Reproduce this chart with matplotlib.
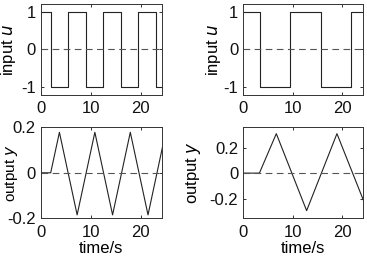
import matplotlib
matplotlib.use("Agg")
import matplotlib.pyplot as plt

# Left column data
u1_t = [0, 2.0, 2.0, 5.5, 5.5, 9.0, 9.0, 12.5, 12.5, 16.0, 16.0, 19.5, 19.5, 23.1, 23.1, 25]
u1_v = [1, 1, -1, -1, 1, 1, -1, -1, 1, 1, -1, -1, 1, 1, -1, -1]
y1_t = [0, 2.0, 3.75, 7.3, 10.85, 14.4, 17.95, 21.5, 25]
y1_v = [0, 0, 0.178, -0.185, 0.178, -0.185, 0.178, -0.185, 0.175]

# Right column data
u2_t = [0, 3.4, 3.4, 9.5, 9.5, 15.6, 15.6, 21.7, 21.7, 25]
u2_v = [1, 1, -1, -1, 1, 1, -1, -1, 1, 1]
y2_t = [0, 3.3, 6.7, 12.8, 18.9, 25]
y2_v = [0, 0, 0.31, -0.295, 0.31, -0.29]

xticks = [0, 10, 20]
u_yticks = [-1, 0, 1]
y1_yticks = [-0.2, 0, 0.2]
y2_yticks = [-0.2, 0, 0.2]

plt.rcParams['font.family'] = ['Liberation Sans', 'DejaVu Sans']
FS = 12

W, H = 367, 258
fig = plt.figure(figsize=(W / 100, H / 100), dpi=100)


def add_ax(x0, x1, ytop, ybot):
    return fig.add_axes([x0 / W, 1 - ybot / H, (x1 - x0) / W, (ybot - ytop) / H])


def style(ax, xlim, ylim, yticks, ylabel, lx, lfs=FS):
    ax.set_xlim(*xlim)
    ax.set_ylim(*ylim)
    ax.set_xticks(xticks)
    ax.set_yticks(yticks)
    ax.set_yticklabels([('%g' % v) for v in yticks])
    ax.tick_params(direction='in', top=True, right=True, length=2.5, width=0.6,
                   labelsize=FS, colors='#111111')
    ax.tick_params(axis='x', pad=4.5)
    ax.tick_params(axis='y', pad=3.5)
    for s in ax.spines.values():
        s.set_linewidth(0.7)
        s.set_color('#333333')
    ax.axhline(0, color='#555555', lw=0.8, dashes=(6, 4))
    ax.set_ylabel(ylabel, fontsize=lfs)
    ax.yaxis.set_label_coords(lx, 0.5)


lw = 0.8
c = '#222222'

ax1 = add_ax(40.7, 162, 4, 95)
ax1.plot(u1_t, u1_v, color=c, lw=lw)
style(ax1, (0, 24.3), (-1.22, 1.2), u_yticks, 'input $u$', -0.19)

ax2 = add_ax(243, 363.3, 4, 95)
ax2.plot(u2_t, u2_v, color=c, lw=lw)
style(ax2, (0, 24.2), (-1.22, 1.2), u_yticks, 'input $u$', -0.17)

ax3 = add_ax(40.7, 162, 127.3, 218.3)
ax3.plot(y1_t, y1_v, color=c, lw=lw)
style(ax3, (0, 24.3), (-0.2, 0.2), y1_yticks, 'output $y$', -0.17, lfs=11)
ax3.set_xlabel('time/s', fontsize=FS, labelpad=1)

ax4 = add_ax(243, 363.3, 127.3, 218.3)
ax4.plot(y2_t, y2_v, color=c, lw=lw)
style(ax4, (0, 24.2), (-0.355, 0.36), y2_yticks, 'output $y$', -0.33)
ax4.set_xlabel('time/s', fontsize=FS, labelpad=1)

fig.savefig('out.png', dpi=100)
